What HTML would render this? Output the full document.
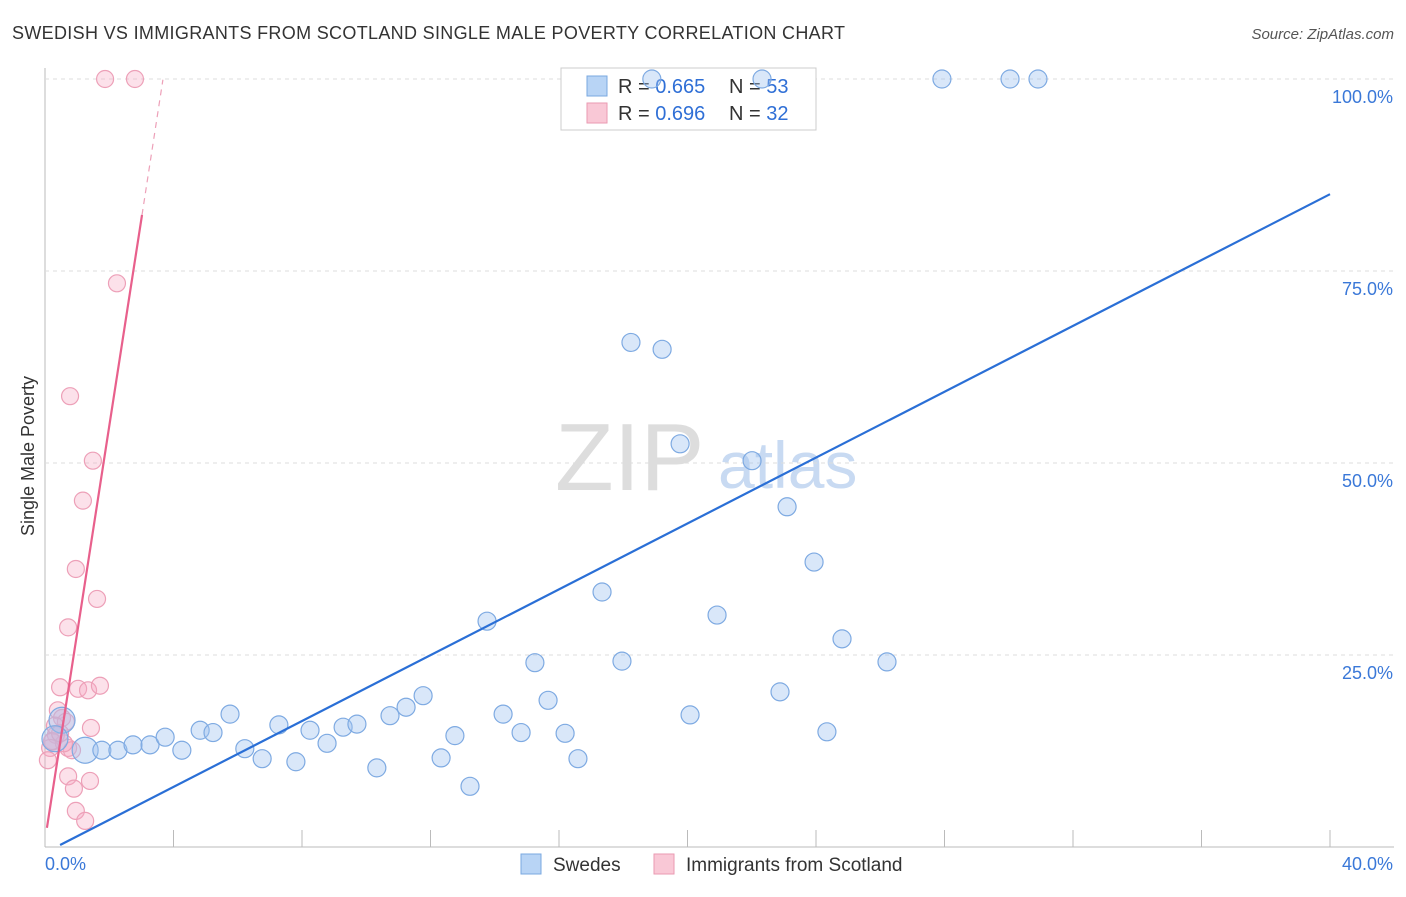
<!DOCTYPE html>
<html><head><meta charset="utf-8"><style>
body{margin:0;background:#fff;font-family:"Liberation Sans",sans-serif;}
svg text{font-family:"Liberation Sans",sans-serif;}
</style></head><body>
<svg id="chart" width="1406" height="892">
<text x="12" y="39" font-size="18" fill="#333" textLength="833">SWEDISH VS IMMIGRANTS FROM SCOTLAND SINGLE MALE POVERTY CORRELATION CHART</text>
<text x="1394" y="39" font-size="15" fill="#555" font-style="italic" text-anchor="end">Source: ZipAtlas.com</text>
<text x="34" y="456" font-size="18" fill="#333" transform="rotate(-90 34 456)" text-anchor="middle">Single Male Poverty</text>
<text x="555" y="490" font-size="96" fill="#ddd" font-family="Liberation Serif">ZIP</text>
<text x="718" y="488" font-size="66" fill="#c8daf2">atlas</text>
<g id="grid"></g>
<g>
<rect x="561" y="68" width="255" height="62" fill="#fff" stroke="#ccc"/>
<rect x="587" y="76" width="20" height="20" fill="#b8d4f5" stroke="#7aa8e0"/>
<text x="618" y="93" font-size="20" fill="#333">R = <tspan fill="#2f6fd6">0.665</tspan></text>
<text x="729" y="93" font-size="20" fill="#333">N = <tspan fill="#2f6fd6">53</tspan></text>
<rect x="587" y="103" width="20" height="20" fill="#f9c8d6" stroke="#ea9ab2"/>
<text x="618" y="120" font-size="20" fill="#333">R = <tspan fill="#2f6fd6">0.696</tspan></text>
<text x="729" y="120" font-size="20" fill="#333">N = <tspan fill="#2f6fd6">32</tspan></text>
</g>
<g id="marks"></g>
<g>
<rect x="521" y="854" width="20" height="20" fill="#b8d4f5" stroke="#7aa8e0"/>
<text x="553" y="871" font-size="19" fill="#333">Swedes</text>
<rect x="654" y="854" width="20" height="20" fill="#f9c8d6" stroke="#ea9ab2"/>
<text x="686" y="871" font-size="19" fill="#333">Immigrants from Scotland</text>
</g>
</svg>
<script>
const yTicks=[25,50,75,100];
const yTickLabels=["25.0%","50.0%","75.0%","100.0%"];
const xTicks=[4,8,12,16,20,24,28,32,36,40];
const blueX=[0.53,1.25,1.77,2.27,2.74,3.27,3.74,4.26,4.83,5.23,5.76,6.22,6.76,7.28,7.81,8.25,8.78,9.28,9.71,10.33,10.74,11.24,11.77,12.33,12.76,13.23,13.76,14.26,14.82,15.25,15.66,16.19,16.59,17.34,17.96,18.24,19.21,19.77,20.08,20.92,22.01,22.88,23.1,23.94,24.34,24.81,26.21,18.89,22.32,27.92,30.04,30.91,0.31];
const blueY=[16.5,12.6,12.6,12.6,13.3,13.3,14.3,12.6,15.2,14.9,17.3,12.8,11.5,15.9,11.1,15.2,13.5,15.6,16.0,10.3,17.1,18.2,19.7,11.6,14.5,7.9,29.4,17.3,14.9,24.0,19.1,14.8,11.5,33.2,24.2,65.7,64.8,52.5,17.2,30.2,50.3,20.2,44.3,37.1,15.0,27.1,24.1,100,100,100,100,100,14.1];
const pinkX=[1.87,2.80,2.24,0.78,1.49,1.18,0.96,1.62,0.72,0.47,1.03,1.34,1.71,0.40,0.53,0.65,1.43,0.34,0.22,0.16,0.09,0.72,0.84,0.72,0.90,1.40,0.96,1.25,0.31,0.59,0.22,0.47];
const pinkY=[100,100,73.4,58.7,50.3,45.1,36.2,32.3,28.6,20.8,20.6,20.4,21.0,17.8,16.8,16.3,15.5,14.6,13.7,12.9,11.3,12.9,12.6,9.2,7.6,8.6,4.7,3.4,15.8,13.5,13.8,14.8];
const blueLine=[[0.47,0.26],[40,85]];
const pinkLine=[[0.06,2.5],[3.02,82.3]];
const pinkDash=[[3.02,82.3],[3.67,99.9]];
const X=v=>45+v/40*1285, Y=v=>847-v/100*768;
const NS="http://www.w3.org/2000/svg";
function mk(t,a,p){const e=document.createElementNS(NS,t);for(const k in a)e.setAttribute(k,a[k]);p.appendChild(e);return e;}
const g=document.getElementById('grid'),m=document.getElementById('marks');
mk('line',{x1:45,y1:68,x2:45,y2:847,stroke:'#bbb'},g);
mk('line',{x1:45,y1:847,x2:1394,y2:847,stroke:'#bbb'},g);
yTicks.forEach((v,i)=>{const l=mk('line',{x1:45,y1:Y(v),x2:1394,y2:Y(v),stroke:'#ddd','stroke-dasharray':'4,4'},g);


const t=mk('text',{x:1393,y:Y(v)+24,'font-size':18,fill:'#3a78d8','text-anchor':'end'},g);t.textContent=yTickLabels[i];

});
xTicks.forEach(v=>{const l=mk('line',{x1:X(v),y1:830,x2:X(v),y2:847,stroke:'#bbb'},g);

});
const t0=mk('text',{x:45,y:870,'font-size':18,fill:'#3a78d8'},g);t0.textContent='0.0%';


const t1=mk('text',{x:1393,y:870,'font-size':18,fill:'#3a78d8','text-anchor':'end'},g);t1.textContent='40.0%';


pinkX.forEach((v,i)=>{const c=mk('circle',{cx:X(v),cy:Y(pinkY[i]),r:8.5,fill:'rgba(246,170,195,0.35)',stroke:'#eda0b8','stroke-width':1.2},m);

});
blueX.forEach((v,i)=>{const c=mk('circle',{cx:X(v),cy:Y(blueY[i]),r:(i<2||i==52)?13:9,fill:'rgba(160,195,240,0.4)',stroke:'#7eaae2','stroke-width':1.2},m);

});
const bl=mk('line',{x1:X(blueLine[0][0]),y1:Y(blueLine[0][1]),x2:X(blueLine[1][0]),y2:Y(blueLine[1][1]),stroke:'#2a6fd6','stroke-width':2.2},m);


const pl=mk('line',{x1:X(pinkLine[0][0]),y1:Y(pinkLine[0][1]),x2:X(pinkLine[1][0]),y2:Y(pinkLine[1][1]),stroke:'#e8608c','stroke-width':2.2},m);


const pd=mk('line',{x1:X(pinkDash[0][0]),y1:Y(pinkDash[0][1]),x2:X(pinkDash[1][0]),y2:Y(pinkDash[1][1]),stroke:'#eda0b8','stroke-width':1.2,'stroke-dasharray':'6,5'},m);


</script>
</body></html>
